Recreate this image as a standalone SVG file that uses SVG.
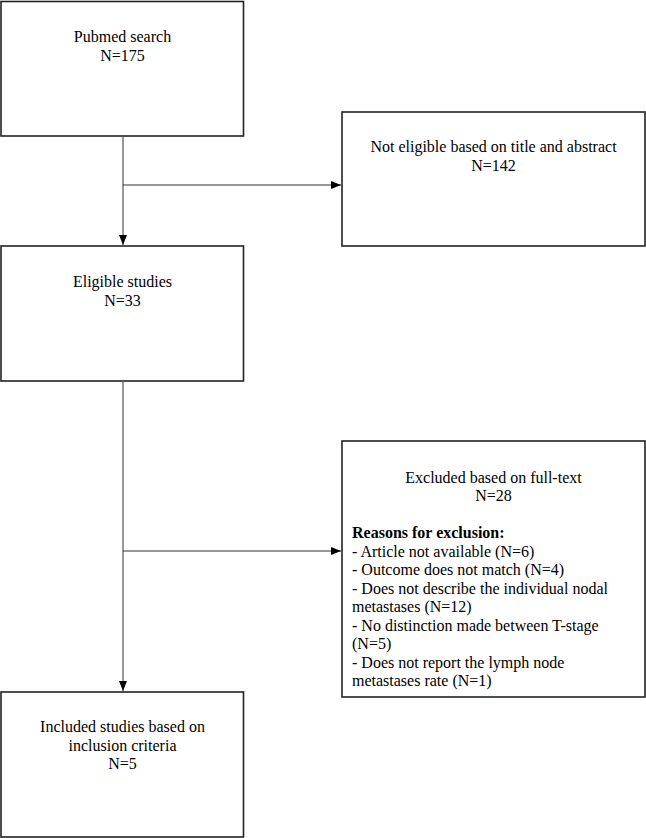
<svg xmlns="http://www.w3.org/2000/svg" width="646" height="838" viewBox="0 0 646 838">
<style>
.box{fill:#fff;stroke:#222;stroke-width:1.6}
.t{font-family:"Liberation Serif","Times New Roman",serif;font-size:16px;fill:#000}
.c{text-anchor:middle}
.b{font-weight:bold}
.ln{stroke:#333;stroke-width:1;fill:none}
</style>
<defs>
<marker id="ah" viewBox="0 0 10 10" refX="10" refY="5" markerWidth="10" markerHeight="10" markerUnits="userSpaceOnUse" orient="auto">
<path d="M0,1 L10,5 L0,9 Z" fill="#000"/>
</marker>
</defs>
<g id="connectors">
<line class="ln" x1="123" y1="137" x2="123" y2="245" marker-end="url(#ah)"/>
<line class="ln" x1="123" y1="185" x2="341" y2="185" marker-end="url(#ah)"/>
<line class="ln" x1="123" y1="382" x2="123" y2="691" marker-end="url(#ah)"/>
<line class="ln" x1="123" y1="551" x2="341" y2="551" marker-end="url(#ah)"/>
</g>
<g id="pubmed">
<rect class="box" x="1" y="1.5" width="242.5" height="134.5"/>
<text class="t c" x="122.5" y="42">Pubmed search</text>
<text class="t c" x="122.5" y="60.5">N=175</text>
</g>
<g id="not-eligible">
<rect class="box" x="342" y="112" width="303" height="134"/>
<text class="t c" x="493.5" y="152">Not eligible based on title and abstract</text>
<text class="t c" x="493.5" y="170.5">N=142</text>
</g>
<g id="eligible">
<rect class="box" x="1" y="246" width="242.5" height="135"/>
<text class="t c" x="122.5" y="287">Eligible studies</text>
<text class="t c" x="122.5" y="305.5">N=33</text>
</g>
<g id="excluded">
<rect class="box" x="342" y="441" width="303" height="256"/>
<text class="t c" x="493.5" y="483">Excluded based on full-text</text>
<text class="t c" x="493.5" y="501">N=28</text>
<text class="t b" x="352" y="538">Reasons for exclusion:</text>
<text class="t" x="352" y="556.5">- Article not available (N=6)</text>
<text class="t" x="352" y="575">- Outcome does not match (N=4)</text>
<text class="t" x="352" y="593.5">- Does not describe the individual nodal</text>
<text class="t" x="352" y="612">metastases (N=12)</text>
<text class="t" x="352" y="630.5">- No distinction made between T-stage</text>
<text class="t" x="352" y="649">(N=5)</text>
<text class="t" x="352" y="667.5">- Does not report the lymph node</text>
<text class="t" x="352" y="686">metastases rate (N=1)</text>
</g>
<g id="included">
<rect class="box" x="1" y="692" width="242.5" height="145"/>
<text class="t c" x="122.5" y="732">Included studies based on</text>
<text class="t c" x="122.5" y="750.5">inclusion criteria</text>
<text class="t c" x="122.5" y="769">N=5</text>
</g>
</svg>
